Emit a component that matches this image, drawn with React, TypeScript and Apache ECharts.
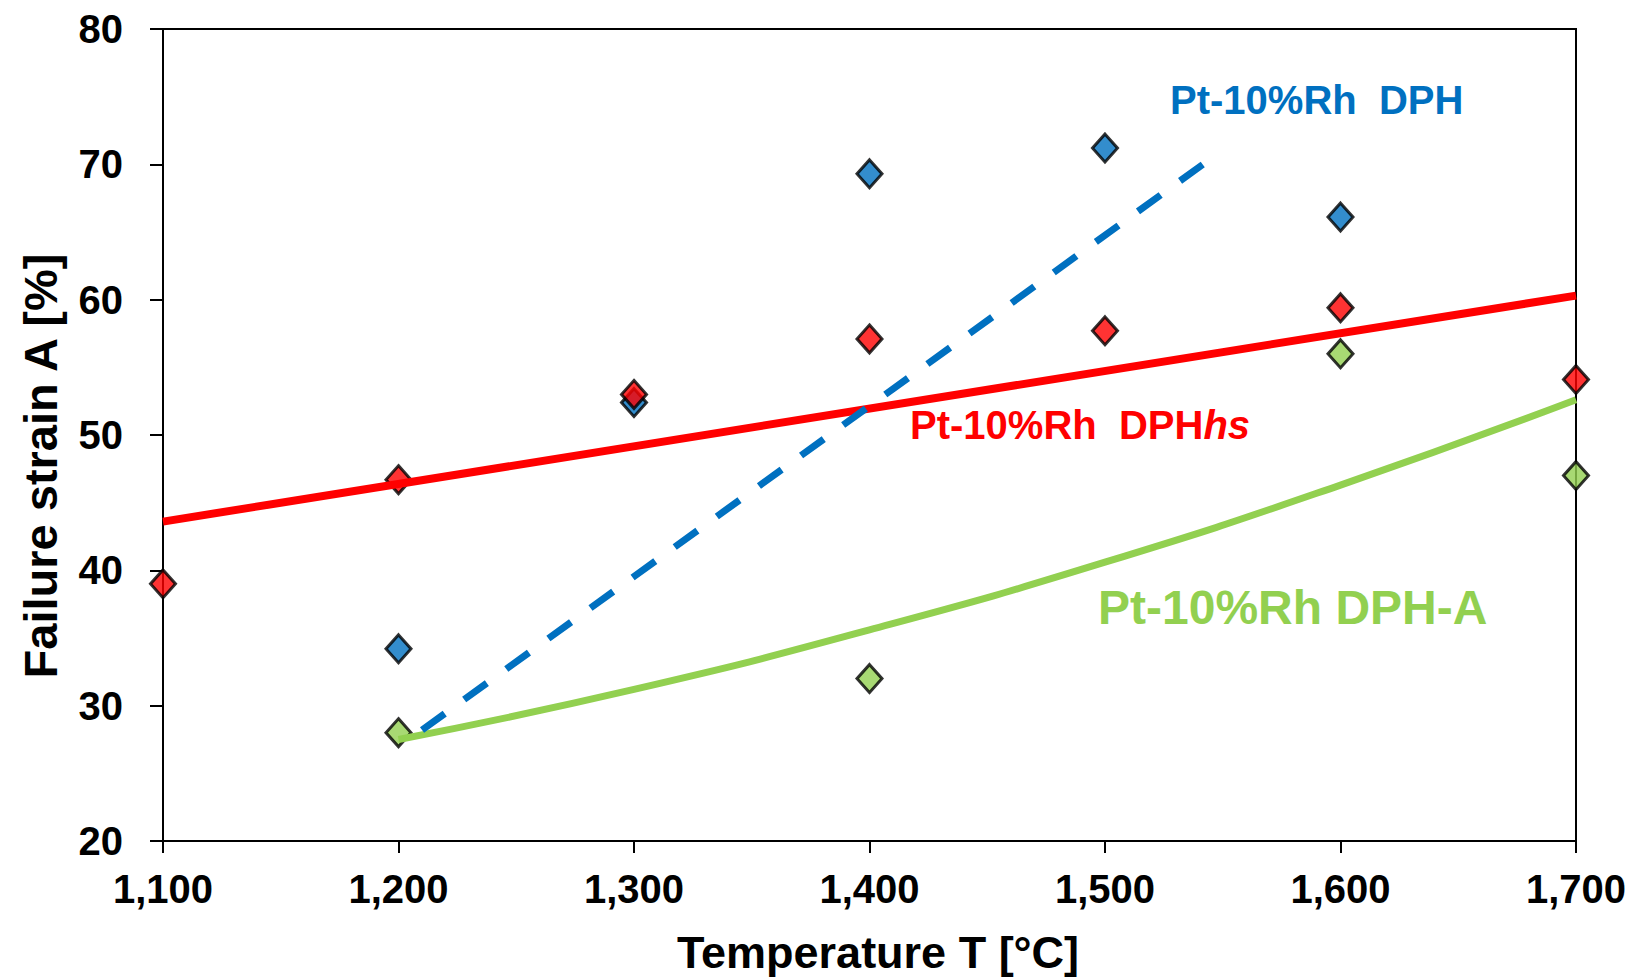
import React, { useEffect, useRef } from "react";
import * as echarts from "echarts";

// Measured points
const dphX = [1200, 1300, 1400, 1500, 1600];
const dphY = [34.2, 52.4, 69.3, 71.2, 66.1];

const hsX = [1100, 1200, 1300, 1400, 1500, 1600, 1700];
const hsY = [39.0, 46.7, 53.0, 57.1, 57.7, 59.4, 54.1];

const aX = [1200, 1400, 1600, 1700];
const aY = [28.0, 32.0, 56.0, 47.0];

// Trend lines
const dphTrendX = [1210, 1544];
const dphTrendY = [28.2, 70.3];

const hsTrendX = [1100, 1700];
const hsTrendY = [43.6, 60.3];

const aTrendX = [1200, 1300, 1400, 1500, 1600, 1700];
const aTrendY = [27.5, 31.2, 35.6, 40.6, 46.3, 52.6];

const xTicks = { min: 1100, max: 1700, interval: 100 };
const yTicks = { min: 20, max: 80, interval: 10 };

const xTitle = "Temperature T [°C]";
const yTitle = "Failure strain A [%]";

const BLUE = "#0070C0";
const RED = "#FF0000";
const GREEN = "#92D050";
const FONT = "'Liberation Sans', Arial, sans-serif";

const pairs = (xs: number[], ys: number[]) => xs.map((x, i) => [x, ys[i]]);

export default function App() {
  const ref = useRef<HTMLDivElement>(null);
  useEffect(() => {
    if (!ref.current) return;
    const chart = echarts.init(ref.current, null, { renderer: "svg" });
    const scatter = (data: number[][], color: string) => ({
      type: "scatter",
      data,
      symbol: "diamond",
      symbolSize: [25, 28],
      itemStyle: { color, borderColor: "#000", borderWidth: 3 },
    });
    chart.setOption({
      animation: false,
      backgroundColor: "#fff",
      grid: {
        left: 163,
        top: 29,
        right: 61,
        bottom: 136,
        show: true,
        borderColor: "#000",
        borderWidth: 2,
      },
      xAxis: {
        type: "value",
        min: xTicks.min,
        max: xTicks.max,
        interval: xTicks.interval,
        axisLine: { show: true, lineStyle: { color: "#000", width: 2 } },
        axisTick: { show: true, length: 12, lineStyle: { color: "#000", width: 2 } },
        splitLine: { show: false },
        axisLabel: {
          margin: 28,
          fontFamily: FONT,
          fontWeight: "bold",
          fontSize: 40,
          color: "#000",
          formatter: (v: number) => v.toLocaleString("en-US"),
        },
      },
      yAxis: {
        type: "value",
        min: yTicks.min,
        max: yTicks.max,
        interval: yTicks.interval,
        axisLine: { show: true, lineStyle: { color: "#000", width: 2 } },
        axisTick: { show: true, length: 13, lineStyle: { color: "#000", width: 2 } },
        splitLine: { show: false },
        axisLabel: {
          margin: 40,
          fontFamily: FONT,
          fontWeight: "bold",
          fontSize: 40,
          color: "#000",
        },
      },
      series: [
        scatter(pairs(aX, aY), GREEN),
        scatter(pairs(dphX, dphY), BLUE),
        scatter(pairs(hsX, hsY), RED),
        {
          type: "line",
          data: pairs(hsTrendX, hsTrendY),
          showSymbol: false,
          symbol: "none",
          lineStyle: { color: RED, width: 8 },
        },
        {
          type: "line",
          data: pairs(aTrendX, aTrendY),
          smooth: true,
          showSymbol: false,
          symbol: "none",
          lineStyle: { color: GREEN, width: 7 },
        },
        {
          type: "line",
          data: pairs(dphTrendX, dphTrendY),
          showSymbol: false,
          symbol: "none",
          lineStyle: { color: BLUE, width: 7, type: [28, 24], cap: "butt" },
        },
      ],
      graphic: [
        {
          type: "text",
          x: 878,
          y: 952,
          style: {
            text: xTitle,
            fill: "#000",
            font: `bold 45px ${FONT}`,
            textAlign: "center",
            textVerticalAlign: "middle",
          },
        },
        {
          type: "text",
          x: 40,
          y: 466,
          rotation: Math.PI / 2,
          style: {
            text: yTitle,
            fill: "#000",
            font: `bold 47px ${FONT}`,
            textAlign: "center",
            textVerticalAlign: "middle",
          },
        },
        {
          type: "text",
          x: 1170,
          y: 100,
          style: {
            text: "Pt-10%Rh  DPH",
            fill: BLUE,
            font: `bold 40px ${FONT}`,
            textAlign: "left",
            textVerticalAlign: "middle",
          },
        },
        {
          type: "text",
          x: 910,
          y: 425,
          style: {
            text: "{a|Pt-10%Rh  DPH}{b|hs}",
            fill: RED,
            font: `bold 40px ${FONT}`,
            textAlign: "left",
            textVerticalAlign: "middle",
            rich: {
              a: { fill: RED, fontFamily: FONT, fontWeight: "bold", fontSize: 40 },
              b: { fill: RED, fontFamily: FONT, fontWeight: "bold", fontStyle: "italic", fontSize: 40 },
            },
          },
        },
        {
          type: "text",
          x: 1098,
          y: 607,
          style: {
            text: "Pt-10%Rh DPH-A",
            fill: GREEN,
            font: `bold 48px ${FONT}`,
            textAlign: "left",
            textVerticalAlign: "middle",
          },
        },
      ],
    });
    return () => chart.dispose();
  }, []);
  return (
    <div
      ref={ref}
      style={{ position: "fixed", left: 0, top: 0, width: 1637, height: 977, background: "#fff" }}
    />
  );
}
